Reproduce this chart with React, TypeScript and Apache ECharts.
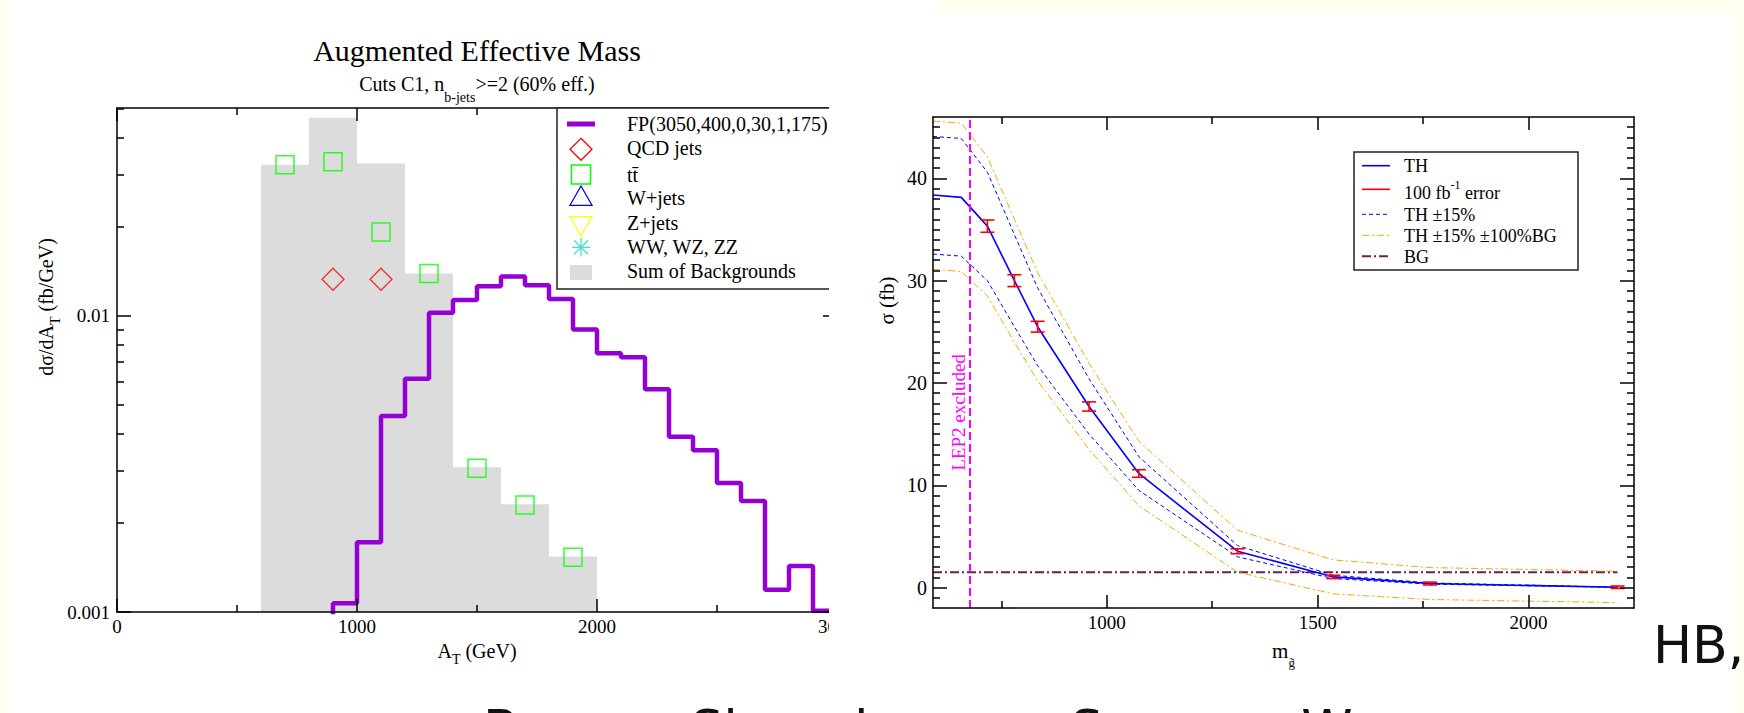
import React, { useEffect, useRef } from 'react';
import * as echarts from 'echarts';

// ---------------- Left chart: Augmented Effective Mass ----------------
const bgBinStart = [600, 800, 1000, 1200, 1400, 1600, 1800];
const bgBinEnd = 2000;
const bgValues = [0.0324, 0.0467, 0.0327, 0.0139, 0.00308, 0.00231, 0.00154];

const fpBinStart = [800, 900, 1000, 1100, 1200, 1300, 1400, 1500, 1600, 1700, 1800, 1900, 2000, 2100, 2200, 2300, 2400, 2500, 2600, 2700, 2800, 2900];
const fpBinEnd = 3000;
const fpValues = [0.0005, 0.00107, 0.00172, 0.00459, 0.00614, 0.01026, 0.01133, 0.0126, 0.0136, 0.0127, 0.0114, 0.0090, 0.00748, 0.00725, 0.00565, 0.00391, 0.00352, 0.00273, 0.00237, 0.00119, 0.00143, 0.00101];

const ttX = [700, 900, 1100, 1300, 1500, 1700, 1900];
const ttY = [0.0324, 0.0332, 0.0192, 0.0139, 0.00306, 0.0023, 0.00153];
const qcdX = [900, 1100];
const qcdY = [0.0133, 0.0133];

const leftXLabels = [0, 1000, 2000, 3000];
const leftYMajor = [0.001, 0.01];
const leftYMinor = [0.002, 0.003, 0.004, 0.005, 0.006, 0.007, 0.008, 0.009, 0.02, 0.03, 0.04, 0.05];
const leftYMin = 0.001;
const leftYMax = 0.0504;

// ---------------- Right chart: sigma vs gluino mass ----------------
const mGluino = [588, 655, 717, 781, 836, 958, 1076, 1310, 1537, 1766, 2211];
const sigmaTH = [38.37, 38.14, 35.33, 30.0, 25.5, 17.7, 11.15, 3.55, 1.04, 0.39, 0.03];
const sigmaUp15 = [44.1, 43.9, 40.6, 34.5, 29.3, 20.4, 12.8, 4.1, 1.2, 0.45, 0.035];
const sigmaDn15 = [32.6, 32.4, 30.0, 25.5, 21.7, 15.0, 9.5, 3.0, 0.88, 0.33, 0.026];
const sigmaUpBG = [45.6, 45.4, 42.1, 36.0, 30.8, 21.9, 14.3, 5.6, 2.7, 1.95, 1.6];
const sigmaDnBG = [31.1, 30.9, 28.5, 24.0, 20.2, 13.5, 8.0, 1.5, -0.62, -1.17, -1.47];
const bgM = [588, 2211];
const bgSigma = [1.5, 1.5];
const errM = [717, 781, 836, 958, 1076, 1310, 1537, 1766, 2211];
const errSigma = [35.33, 30.0, 25.5, 17.7, 11.15, 3.55, 1.04, 0.39, 0.03];
const errSize = [0.6, 0.58, 0.53, 0.45, 0.37, 0.24, 0.16, 0.14, 0.12];
const lep2Limit = 676;

const rightXMin = 588;
const rightXMax = 2250;
const rightXMajor = [1000, 1500, 2000];
const rightXMinor = [750, 1250, 1750];
const rightYMin = -2;
const rightYMax = 46;
const rightYMajor = [0, 10, 20, 30, 40];

const SERIF = "'Liberation Serif', 'Times New Roman', Times, serif";
const SANS = "'DejaVu Sans', Verdana, sans-serif";
const BLACK = '#000000';
const lineStyleAxis = { color: BLACK, width: 1.5 };
const plainNumber = (v: number) => String(v);

function tickAxis(opts: any) {
  const { gridIndex, position, type = 'value', min, max, major, minor, majorLen = 13, minorLen = 7, labels, showLine, extra } = opts;
  return {
    type,
    gridIndex,
    position,
    min,
    max,
    z: 10,
    silent: true,
    splitLine: { show: false },
    minorSplitLine: { show: false },
    axisLine: { show: !!showLine, onZero: false, lineStyle: lineStyleAxis },
    axisTick: {
      show: true,
      inside: true,
      length: major ? majorLen : minorLen,
      lineStyle: lineStyleAxis,
      customValues: major || minor,
    },
    axisLabel: labels
      ? { show: true, customValues: labels, color: BLACK, fontFamily: SERIF, formatter: plainNumber, ...(opts.labelStyle || {}) }
      : { show: false },
    ...(extra || {}),
  };
}

export default function App() {
  const ref = useRef<HTMLDivElement>(null);

  useEffect(() => {
    document.body.style.margin = '0';
    if (!ref.current) return;
    const chart = echarts.init(ref.current, null, { renderer: 'svg' });

    const bgData = bgBinStart.map((x, i) => [x, bgValues[i]]);
    bgData.push([bgBinEnd, bgValues[bgValues.length - 1]]);
    const fpData = fpBinStart.map((x, i) => [x, fpValues[i]]);
    fpData.push([fpBinEnd, fpValues[fpValues.length - 1]]);

    const lgMax = Math.log10(leftYMax);
    const lgMin = Math.log10(leftYMin);

    const rightYMinor: number[] = [];
    for (let v = rightYMin + 1; v < rightYMax; v++) if (v % 10 !== 0) rightYMinor.push(v);

    const xAxes: any[] = [
      {
        type: 'value', gridIndex: 0, position: 'bottom', min: 0, max: 3000, interval: 1000, z: 10,
        splitLine: { show: false }, minorSplitLine: { show: false },
        axisLine: { show: true, onZero: false, lineStyle: lineStyleAxis },
        axisTick: { show: true, inside: true, length: 13, lineStyle: lineStyleAxis },
        minorTick: { show: true, splitNumber: 2, length: 7, lineStyle: lineStyleAxis },
        axisLabel: { show: true, customValues: leftXLabels, formatter: plainNumber, margin: 5, color: BLACK, fontFamily: SERIF, fontSize: 19 },
        name: '{a|A}{s|T}{a| (GeV)}',
        nameLocation: 'middle',
        nameGap: 22,
        nameTextStyle: {
          color: BLACK, fontFamily: SERIF, fontSize: 20,
          rich: {
            a: { fontFamily: SERIF, fontSize: 20, color: BLACK },
            s: { fontFamily: SERIF, fontSize: 14, color: BLACK, padding: [18, 0, 0, 0] },
          },
        },
      },
      {
        type: 'value', gridIndex: 0, position: 'top', min: 0, max: 3000, interval: 1000, z: 10,
        splitLine: { show: false }, minorSplitLine: { show: false },
        axisLine: { show: true, onZero: false, lineStyle: lineStyleAxis },
        axisTick: { show: true, inside: true, length: 13, lineStyle: lineStyleAxis },
        minorTick: { show: true, splitNumber: 2, length: 7, lineStyle: lineStyleAxis },
        axisLabel: { show: false },
      },
      tickAxis({
        gridIndex: 1, position: 'bottom', min: rightXMin, max: rightXMax, major: rightXMajor, labels: rightXMajor, showLine: true,
        labelStyle: { fontSize: 19, margin: 5 },
        extra: {
          name: '{a|m}{s|g\u0303}',
          nameLocation: 'middle',
          nameGap: 24,
          nameTextStyle: {
            color: BLACK, fontFamily: SERIF, fontSize: 20,
            rich: {
              a: { fontFamily: SERIF, fontSize: 21, color: BLACK },
              s: { fontFamily: SERIF, fontSize: 13, color: BLACK, padding: [24, 0, 0, 0] },
            },
          },
        },
      }),
      tickAxis({ gridIndex: 1, position: 'bottom', min: rightXMin, max: rightXMax, minor: rightXMinor }),
      tickAxis({ gridIndex: 1, position: 'top', min: rightXMin, max: rightXMax, major: rightXMajor, showLine: true }),
      tickAxis({ gridIndex: 1, position: 'top', min: rightXMin, max: rightXMax, minor: rightXMinor }),
    ];

    const yAxes: any[] = [
      {
        type: 'log', logBase: 10, gridIndex: 0, position: 'left', min: leftYMin, max: leftYMax, z: 10,
        axisLine: { show: false, onZero: false }, axisTick: { show: false }, axisLabel: { show: false },
        splitLine: { show: false }, minorSplitLine: { show: false },
      },
      tickAxis({
        gridIndex: 0, position: 'left', min: lgMin, max: lgMax, major: leftYMajor.map(Math.log10), majorLen: 14,
        labels: leftYMajor.map(Math.log10), showLine: true,
        labelStyle: {
          fontSize: 19, margin: 7,
          formatter: (v: number) => String(Number(Math.pow(10, v).toPrecision(1))),
        },
        extra: {
          name: '{a|d\u03c3/dA}{s|T}{a| (fb/GeV)}',
          nameLocation: 'middle',
          nameGap: 55,
          nameTextStyle: {
            color: BLACK, fontFamily: SERIF, fontSize: 20,
            padding: [0, 0, 0, 106],
            rich: {
              a: { fontFamily: SERIF, fontSize: 20, color: BLACK },
              s: { fontFamily: SERIF, fontSize: 14, color: BLACK, padding: [18, 0, 0, 0] },
            },
          },
        },
      }),
      tickAxis({ gridIndex: 0, position: 'left', min: lgMin, max: lgMax, minor: leftYMinor.map(Math.log10) }),
      tickAxis({ gridIndex: 0, position: 'right', min: lgMin, max: lgMax, major: leftYMajor.map(Math.log10), majorLen: 14, showLine: true }),
      tickAxis({ gridIndex: 0, position: 'right', min: lgMin, max: lgMax, minor: leftYMinor.map(Math.log10) }),
      tickAxis({
        gridIndex: 1, position: 'left', min: rightYMin, max: rightYMax, major: rightYMajor, majorLen: 14, labels: rightYMajor, showLine: true,
        labelStyle: { fontSize: 20, margin: 6 },
        extra: {
          name: '\u03c3 (fb)',
          nameLocation: 'middle',
          nameGap: 36,
          nameTextStyle: { color: BLACK, fontFamily: SERIF, fontSize: 21, padding: [0, 0, 0, 124] },
        },
      }),
      tickAxis({ gridIndex: 1, position: 'left', min: rightYMin, max: rightYMax, minor: rightYMinor }),
      tickAxis({ gridIndex: 1, position: 'right', min: rightYMin, max: rightYMax, major: rightYMajor, majorLen: 14, showLine: true }),
      tickAxis({ gridIndex: 1, position: 'right', min: rightYMin, max: rightYMax, minor: rightYMinor }),
    ];

    const zip = (xs: number[], ys: number[]) => xs.map((x, i) => [x, ys[i]]);
    const rLine = (name: string, ys: number[], color: string, width: number, type: any, z = 3) => ({
      type: 'line', name, xAxisIndex: 2, yAxisIndex: 5, data: zip(mGluino, ys), symbol: 'none',
      lineStyle: { color, width, type }, itemStyle: { color }, z, silent: true,
    });

    const series: any[] = [
      {
        type: 'line', name: 'Sum of Backgrounds', xAxisIndex: 0, yAxisIndex: 0, step: 'end', data: bgData,
        symbol: 'none', lineStyle: { width: 0, color: '#dcdcdc' }, itemStyle: { color: '#dcdcdc' },
        areaStyle: { color: '#dcdcdc', opacity: 1, origin: 'start' }, z: 1, silent: true,
      },
      {
        type: 'line', name: 'FP(3050,400,0,30,1,175)', xAxisIndex: 0, yAxisIndex: 0, step: 'end', data: fpData,
        symbol: 'none', lineStyle: { width: 4.5, color: '#9400d3' }, itemStyle: { color: '#9400d3' }, z: 3, silent: true,
      },
      {
        type: 'scatter', name: 'QCD jets', xAxisIndex: 0, yAxisIndex: 0, data: zip(qcdX, qcdY),
        symbol: 'diamond', symbolSize: 22, itemStyle: { color: 'transparent', borderColor: '#ff0000', borderWidth: 1.3 }, z: 4, silent: true,
      },
      {
        type: 'scatter', name: 't\u0074\u0304', xAxisIndex: 0, yAxisIndex: 0, data: zip(ttX, ttY),
        symbol: 'rect', symbolSize: 18, itemStyle: { color: 'transparent', borderColor: '#00ff00', borderWidth: 1.5 }, z: 4, silent: true,
      },
      {
        type: 'line', name: 'BG', xAxisIndex: 2, yAxisIndex: 5, data: zip(bgM, bgSigma), symbol: 'none',
        lineStyle: { color: '#6e1f4e', width: 2, type: [9, 3, 2, 3] }, z: 2, silent: true,
      },
      rLine('TH \u00b115% \u00b1100%BG up', sigmaUpBG, '#ffa500', 1, [7, 3, 2, 3]),
      rLine('TH \u00b115% \u00b1100%BG down', sigmaDnBG, '#ffa500', 1, [7, 3, 2, 3]),
      rLine('TH \u00b115% up', sigmaUp15, '#0000ff', 1, [4, 3]),
      rLine('TH \u00b115% down', sigmaDn15, '#0000ff', 1, [4, 3]),
      {
        ...rLine('TH', sigmaTH, '#0000ff', 1.6, 'solid', 4),
        markLine: {
          silent: true, symbol: ['none', 'none'], animation: false,
          label: { show: false },
          lineStyle: { color: '#ff00ff', width: 2, type: [8, 4] },
          data: [{ xAxis: lep2Limit }],
        },
      },
      {
        type: 'custom', name: '100 fb-1 error', xAxisIndex: 2, yAxisIndex: 5, coordinateSystem: 'cartesian2d',
        data: errM.map((m, i) => [m, errSigma[i], errSize[i]]), z: 6, silent: true,
        encode: { x: 0, y: 1 },
        renderItem: (params: any, api: any) => {
          const x = api.value(0);
          const y = api.value(1);
          const e = api.value(2);
          const top = api.coord([x, y + e]);
          const bot = api.coord([x, y - e]);
          const style = { stroke: '#ff0000', lineWidth: 1.6 };
          return {
            type: 'group',
            children: [
              { type: 'line', shape: { x1: top[0], y1: top[1], x2: bot[0], y2: bot[1] }, style },
              { type: 'line', shape: { x1: top[0] - 7, y1: top[1], x2: top[0] + 7, y2: top[1] }, style },
              { type: 'line', shape: { x1: bot[0] - 7, y1: bot[1], x2: bot[0] + 7, y2: bot[1] }, style },
            ],
          };
        },
      },
    ];

    const txt = (x: number, y: number, text: string, size: number, extra: any = {}) => ({
      type: 'text', x, y, z: 60, silent: true,
      style: { text, fontSize: size, fontFamily: SERIF, fill: BLACK, align: 'left', verticalAlign: 'middle', ...extra },
    });
    const seg = (x1: number, y1: number, x2: number, y2: number, stroke: string, lineWidth: number, lineDash?: number[]) => ({
      type: 'line', z: 60, silent: true,
      shape: { x1, y1, x2, y2 },
      style: { stroke, lineWidth, lineDash },
    });

    const lx = 581; // left legend icon center
    const graphics: any[] = [
      // slide background and pasted images
      { type: 'rect', z: -20, silent: true, shape: { x: 0, y: 0, width: 1744, height: 713 }, style: { fill: '#fffff0' } },
      { type: 'rect', z: -19, silent: true, shape: { x: 8, y: 0, width: 932, height: 713 }, style: { fill: '#ffffff' } },
      { type: 'rect', z: -19, silent: true, shape: { x: 929, y: 13, width: 807, height: 700 }, style: { fill: '#ffffff' } },

      // left titles
      txt(477, 50, 'Augmented Effective Mass', 30, { align: 'center' }),
      txt(477, 84, '{a|Cuts C1, n}{s|b-jets}{a|>=2 (60% eff.)}', 20, {
        align: 'center',
        rich: {
          a: { fontSize: 20, fontFamily: SERIF, fill: BLACK },
          s: { fontSize: 14, fontFamily: SERIF, fill: BLACK, padding: [26, 0, 0, 0] },
        },
      }),

      // left legend
      { type: 'rect', z: 40, silent: true, shape: { x: 557, y: 108, width: 300, height: 181 }, style: { fill: '#ffffff', stroke: '#222', lineWidth: 1.5 } },
      { ...seg(567, 124, 595, 124, '#9400d3', 5), z: 41 },
      { type: 'polygon', z: 41, silent: true, shape: { points: [[lx, 138.3], [lx + 11, 149.3], [lx, 160.3], [lx - 11, 149.3]] }, style: { fill: 'none', stroke: '#ff0000', lineWidth: 1.3 } },
      { type: 'rect', z: 41, silent: true, shape: { x: lx - 9.5, y: 165, width: 19, height: 19 }, style: { fill: 'none', stroke: '#00ff00', lineWidth: 1.5 } },
      { type: 'polygon', z: 41, silent: true, shape: { points: [[lx, 186], [lx + 11, 205.3], [lx - 11, 205.3]] }, style: { fill: 'none', stroke: '#0000ff', lineWidth: 1.3 } },
      { type: 'polygon', z: 41, silent: true, shape: { points: [[lx - 11, 216.7], [lx + 11, 216.7], [lx, 236]] }, style: { fill: 'none', stroke: '#ffff00', lineWidth: 1.3 } },
      { ...seg(lx, 238, lx, 256.6, '#40e0d0', 1.3), z: 41 },
      { ...seg(lx - 9, 247.3, lx + 9, 247.3, '#40e0d0', 1.3), z: 41 },
      { ...seg(lx - 7, 240.3, lx + 7, 254.3, '#40e0d0', 1.3), z: 41 },
      { ...seg(lx - 7, 254.3, lx + 7, 240.3, '#40e0d0', 1.3), z: 41 },
      { type: 'rect', z: 41, silent: true, shape: { x: 570, y: 265, width: 22, height: 15 }, style: { fill: '#dcdcdc' } },
      { ...txt(627, 123.5, 'FP(3050,400,0,30,1,175)', 20), z: 42 },
      { ...txt(627, 148, 'QCD jets', 20), z: 42 },
      { ...txt(627, 175, 't\u0074\u0304', 20), z: 42 },
      { ...txt(627, 197.5, 'W+jets', 20), z: 42 },
      { ...txt(627, 222.5, 'Z+jets', 20), z: 42 },
      { ...txt(627, 246.5, 'WW, WZ, ZZ', 20), z: 42 },
      { ...txt(627, 271, 'Sum of Backgrounds', 20), z: 42 },

      // cut of the left picture
      { type: 'rect', z: 50, silent: true, shape: { x: 829, y: 95, width: 45, height: 590 }, style: { fill: '#ffffff' } },

      // right legend
      { type: 'rect', z: 40, silent: true, shape: { x: 1354, y: 152, width: 224, height: 118 }, style: { fill: '#ffffff', stroke: '#222', lineWidth: 1.5 } },
      seg(1362, 165.7, 1390, 165.7, '#0000ff', 1.6),
      seg(1362, 189.3, 1390, 189.3, '#ff0000', 1.6),
      seg(1362, 214.3, 1390, 214.3, '#0000ff', 1, [4, 3]),
      seg(1362, 235.3, 1390, 235.3, '#ffa500', 1, [7, 3, 2, 3]),
      seg(1362, 256.3, 1390, 256.3, '#6e1f4e', 2, [9, 3, 2, 3]),
      txt(1404, 166, 'TH', 18),
      txt(1404, 193, '{n|100 fb}{p|-1}{n| error}', 18, {
        rich: {
          n: { fontSize: 18, fontFamily: SERIF, fill: BLACK },
          p: { fontSize: 12, fontFamily: SERIF, fill: BLACK, padding: [0, 0, 16, 0] },
        },
      }),
      txt(1404, 215, 'TH \u00b115%', 18),
      txt(1404, 235.7, 'TH \u00b115% \u00b1100%BG', 18),
      txt(1404, 256.7, 'BG', 18),

      // LEP2 annotation
      { ...txt(958.5, 412.5, 'LEP2 excluded', 19, { align: 'center', fill: '#ff00ff' }), rotation: Math.PI / 2 },

      // slide text
      { type: 'text', x: 1653, y: 645, z: 70, silent: true, style: { text: 'HB,', fontSize: 52, fontFamily: SANS, fill: '#111', align: 'left', verticalAlign: 'middle' } },
      { type: 'text', x: 483, y: 729, z: 70, silent: true, style: { text: 'Barger, Shaughnessy, Summy, Wang', fontSize: 52, fontFamily: SANS, fill: '#111', align: 'left', verticalAlign: 'middle' } },
    ];

    chart.setOption({
      animation: false,
      backgroundColor: 'transparent',
      grid: [
        { left: 117, top: 108, width: 720, height: 504, containLabel: false, outerBoundsMode: 'none', show: false },
        { left: 933, top: 117, width: 701, height: 491, containLabel: false, outerBoundsMode: 'none', show: false },
      ],
      xAxis: xAxes,
      yAxis: yAxes,
      series,
      graphic: { elements: graphics },
    });

    return () => {
      chart.dispose();
    };
  }, []);

  return <div ref={ref} style={{ width: 1744, height: 713 }} />;
}
